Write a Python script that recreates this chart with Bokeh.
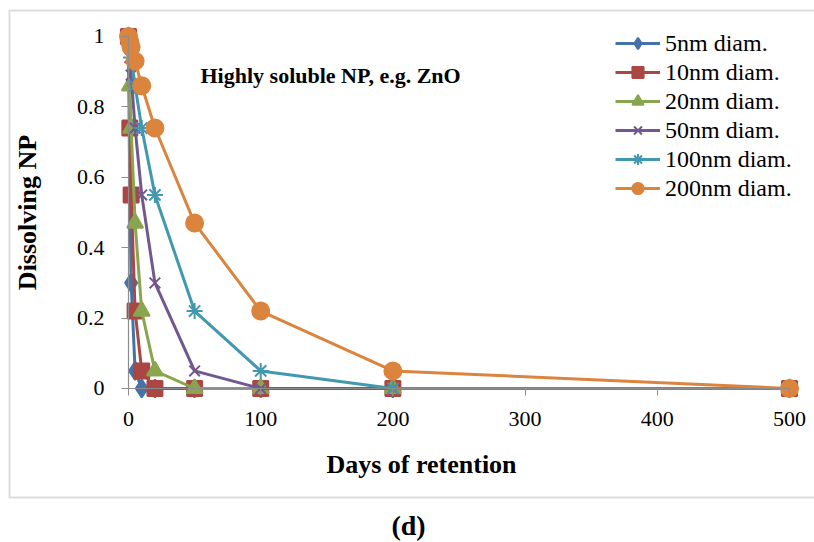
from bokeh.plotting import figure
from bokeh.models import (Range1d, LinearAxis, FixedTicker, Legend, LegendItem,
                          Label, BoxAnnotation)
from bokeh.embed import file_html
from bokeh.resources import INLINE

# ---- data ----
days = [0, 1, 2, 5, 10, 20, 50, 100, 200, 500]
np5 = [1.0, 0.55, 0.30, 0.05, 0.0, 0.0, 0.0, 0.0, 0.0, 0.0]
np10 = [1.0, 0.74, 0.55, 0.22, 0.05, 0.0, 0.0, 0.0, 0.0, 0.0]
np20 = [1.0, 0.86, 0.74, 0.47, 0.22, 0.05, 0.0, 0.0, 0.0, 0.0]
np50 = [1.0, 0.94, 0.89, 0.74, 0.55, 0.30, 0.05, 0.0, 0.0, 0.0]
np100 = [1.0, 0.97, 0.94, 0.86, 0.74, 0.55, 0.22, 0.05, 0.0, 0.0]
np200 = [1.0, 0.985, 0.97, 0.93, 0.86, 0.74, 0.47, 0.22, 0.05, 0.0]

series_names = ["5nm diam.", "10nm diam.", "20nm diam.", "50nm diam.",
                "100nm diam.", "200nm diam."]
series_values = [np5, np10, np20, np50, np100, np200]

x_ticks = [0, 100, 200, 300, 400, 500]
y_ticks = [0, 0.2, 0.4, 0.6, 0.8, 1]
y_tick_labels = ["0", "0.2", "0.4", "0.6", "0.8", "1"]

colors = ["#4572A7", "#AA4643", "#89A54E", "#71588F", "#4198AF", "#DB843D"]
markers = ["diamond", "square", "triangle", "x", "asterisk", "circle"]
sizes = [18, 15, 16, 15, 16, 17]

FONT = "'Liberation Serif', serif"

# the frame covers the whole canvas; axes are pinned at 0
p = figure(width=814, height=542, output_backend="svg", toolbar_location=None,
           x_axis_type=None, y_axis_type=None,
           x_range=Range1d(-96.82, 518.91), y_range=Range1d(-0.4375, 1.10227),
           min_border_left=0, min_border_right=0,
           min_border_top=0, min_border_bottom=0)
p.grid.visible = False
p.outline_line_color = None
p.background_fill_color = "white"

xaxis = LinearAxis(fixed_location=0, bounds=(0, 500),
                   ticker=FixedTicker(ticks=x_ticks))
yaxis = LinearAxis(fixed_location=0, bounds=(0, 1),
                   ticker=FixedTicker(ticks=y_ticks),
                   major_label_overrides={float(t): l for t, l in zip(y_ticks, y_tick_labels)})
for ax in (xaxis, yaxis):
    ax.axis_line_color = "#8c8c8c"
    ax.axis_line_width = 1.2
    ax.major_tick_line_color = "#8c8c8c"
    ax.major_tick_in = 0
    ax.major_tick_out = 7
    ax.minor_tick_line_color = None
    ax.major_label_text_font = FONT
    ax.major_label_text_font_size = "22px"
    ax.major_label_text_color = "black"
    ax.axis_label_text_font = FONT
    ax.axis_label_text_font_style = "bold"
    ax.axis_label_text_font_size = "26px"
    ax.axis_label_text_color = "black"
yaxis.axis_label = "Dissolving NP"
xaxis.major_label_standoff = 17
yaxis.major_label_standoff = 17
yaxis.axis_label_standoff = 32
p.add_layout(xaxis, "below")
p.add_layout(yaxis, "left")

xlabel = Label(x=421, y=78, x_units="screen", y_units="screen",
               text="Days of retention", text_font=FONT,
               text_font_style="bold", text_font_size="26px",
               text_align="center", text_baseline="middle", text_color="black")
p.add_layout(xlabel)

items = []
for name, vals, c, m, s in zip(series_names, series_values, colors, markers, sizes):
    r1 = p.line(days, vals, line_color=c, line_width=3)
    r2 = p.scatter(days, vals, marker=m, size=s, fill_color=c, line_color=c,
                   line_width=2)
    items.append(LegendItem(label=name, renderers=[r1, r2]))

legend = Legend(items=items, location=(615, 340))
legend.label_text_font = FONT
legend.label_text_font_size = "24px"
legend.label_text_color = "black"
legend.glyph_width = 45
legend.glyph_height = 28
legend.label_height = 28
legend.label_standoff = 5
legend.spacing = 1
legend.padding = 0
legend.margin = 0
legend.border_line_color = None
legend.background_fill_alpha = 0
p.add_layout(legend, "center")

title = Label(x=200, y=467, x_units="screen", y_units="screen",
              text="Highly soluble NP, e.g. ZnO", text_font=FONT,
              text_font_style="bold", text_font_size="22px",
              text_baseline="middle", text_color="black")
p.add_layout(title)

panel = Label(x=408, y=17, x_units="screen", y_units="screen", text="(d)",
              text_font=FONT, text_font_style="bold", text_font_size="28px",
              text_align="center", text_baseline="middle", text_color="black")
p.add_layout(panel)

box = BoxAnnotation(left=9, right=830, top=532, bottom=45,
                    left_units="screen", right_units="screen",
                    top_units="screen", bottom_units="screen",
                    fill_alpha=0, line_color="#8c8c8c", line_width=2)
p.add_layout(box)

open("out.html", "w").write(file_html(p, INLINE))
